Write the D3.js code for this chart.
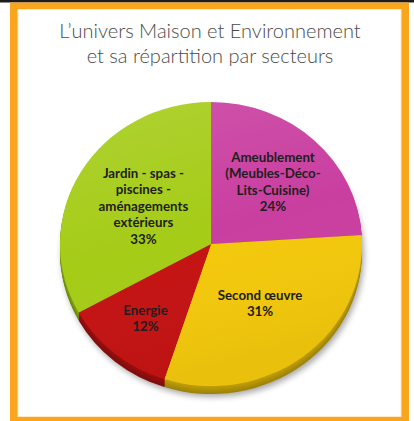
<!DOCTYPE html>
<html lang="fr">
<head>
<meta charset="UTF-8">
<title>Maison et Environnement</title>
<style>
    body { margin: 0; background: #fff; }
    svg { display: block; }
</style>
</head>
<body>
<script src="https://cdn.jsdelivr.net/npm/d3@7"></script>
<script>
    const W = 414;
    const H = 421;

    // données
    const titre = ["L’univers Maison et Environnement", "et sa répartition par secteurs"];
    const secteurs = ["Ameublement (Meubles-Déco-Lits-Cuisine)", "Second œuvre", "Energie", "Jardin - spas - piscines - aménagements extérieurs"];
    const parts = [24, 31, 12, 33];
    const lignesEtiquettes = [
        ["Ameublement", "(Meubles-Déco-", "Lits-Cuisine)"],
        ["Second œuvre"],
        ["Energie"],
        ["Jardin - spas -", "piscines -", "aménagements", "extérieurs"]
    ];
    const couleurs = ["#c93fa0", "#f3c80c", "#c41313", "#a5cc17"];

    const svg = d3.select("body")
        .append("svg")
        .attr("width", W)
        .attr("height", H);

    // cadre
    svg.append("rect").attr("x", 0).attr("y", 0).attr("width", W).attr("height", 2.5).attr("fill", "#1c1c1c");
    svg.append("rect").attr("x", 10).attr("y", 2.5).attr("width", 399).attr("height", H - 2.5).attr("fill", "#f9a61e");
    svg.append("rect").attr("x", 18).attr("y", 9.5).attr("width", 383).attr("height", 407).attr("fill", "#fff")
        .attr("stroke", "#fde9c4").attr("stroke-width", 1);

    // titre
    svg.append("g")
        .selectAll("text")
        .data(titre)
        .join("text")
        .attr("x", 210)
        .attr("y", (d, i) => 38 + i * 25)
        .attr("text-anchor", "middle")
        .attr("font-family", "Lato, 'DejaVu Sans', sans-serif")
        .attr("font-weight", 300)
        .attr("font-size", 20)
        .attr("fill", "#4a4a4a")
        .text(d => d);

    // camembert en perspective
    const cx = 211, cy = 244, rx = 151, ry = 142, epaisseur = 8;
    const k = ry / rx;

    const defs = svg.append("defs");
    const flou = defs.append("filter").attr("id", "ombre").attr("x", "-20%").attr("y", "-20%").attr("width", "140%").attr("height", "140%");
    flou.append("feGaussianBlur").attr("stdDeviation", 3);

    const reflet = defs.append("linearGradient").attr("id", "reflet")
        .attr("x1", 0).attr("y1", 0).attr("x2", 0.3).attr("y2", 1);
    reflet.append("stop").attr("offset", "0%").attr("stop-color", "#fff").attr("stop-opacity", 0.12);
    reflet.append("stop").attr("offset", "55%").attr("stop-color", "#fff").attr("stop-opacity", 0);
    reflet.append("stop").attr("offset", "100%").attr("stop-color", "#000").attr("stop-opacity", 0.04);

    const pie = d3.pie().sort(null).startAngle(0).endAngle(2 * Math.PI);
    const arcs = pie(parts);
    const arc = d3.arc().innerRadius(0).outerRadius(rx);

    // ombre portée
    svg.append("ellipse")
        .attr("cx", cx + 2).attr("cy", cy + epaisseur + 3)
        .attr("rx", rx).attr("ry", ry)
        .attr("fill", "#000").attr("opacity", 0.35)
        .attr("filter", "url(#ombre)");

    // tranche (empilement de couches plus sombres)
    for (let i = epaisseur; i >= 1; i--) {
        svg.append("g")
            .attr("transform", `translate(${cx},${cy + i}) scale(1,${k})`)
            .selectAll("path")
            .data(arcs)
            .join("path")
            .attr("d", arc)
            .attr("fill", (d, j) => d3.color(couleurs[j]).darker(0.6 + 0.6 * i / epaisseur));
    }

    // face supérieure
    const dessus = svg.append("g")
        .attr("transform", `translate(${cx},${cy}) scale(1,${k})`);
    dessus.selectAll("path")
        .data(arcs)
        .join("path")
        .attr("d", arc)
        .attr("fill", (d, i) => couleurs[i]);
    dessus.append("circle")
        .attr("r", rx)
        .attr("fill", "url(#reflet)");

    // étiquettes
    const rayonsEtiquettes = [0.6, 0.53, 0.68, 0.52];
    const lh = 16.5;
    const etiquettes = svg.append("g")
        .attr("font-family", "Lato, Carlito, 'Open Sans', sans-serif")
        .attr("font-weight", 700)
        .attr("font-size", 13.3)
        .attr("fill", "#1e1e1e")
        .attr("text-anchor", "middle");

    arcs.forEach((d, i) => {
        const r = rx * rayonsEtiquettes[i];
        const [px, py] = d3.arc().innerRadius(r).outerRadius(r).centroid(d);
        const lignes = lignesEtiquettes[i].concat([parts[i] + "%"]);
        const y0 = cy + py * k - (lignes.length - 1) * lh / 2;
        etiquettes.append("text")
            .selectAll("tspan")
            .data(lignes)
            .join("tspan")
            .attr("x", cx + px)
            .attr("y", (l, j) => y0 + j * lh + 4.5)
            .text(l => l);
    });
</script>
</body>
</html>
